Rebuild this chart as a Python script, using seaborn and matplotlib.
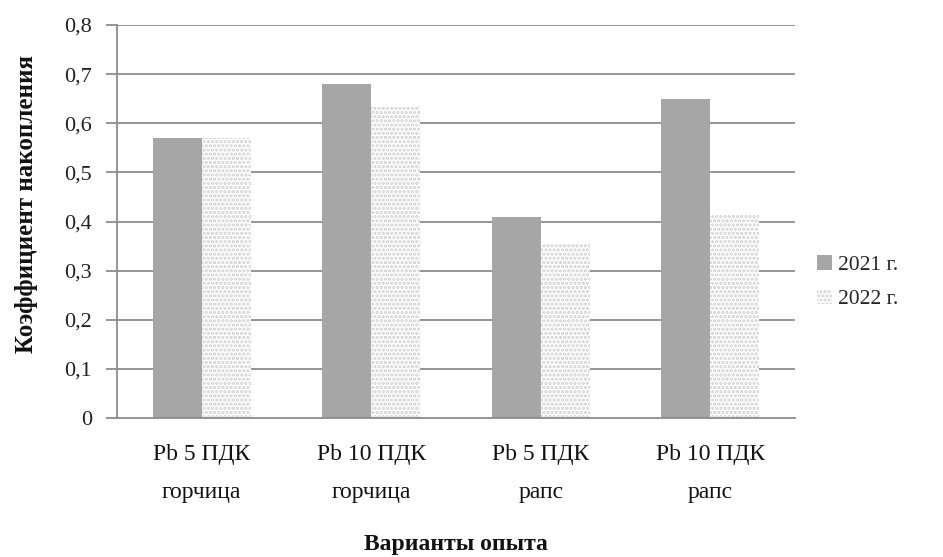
import matplotlib
matplotlib.use("Agg")
import matplotlib.pyplot as plt
import seaborn as sns
import pandas as pd
from matplotlib.patches import Patch

# Accumulation coefficient of Pb by experiment variant and year
categories = ["Pb 5 ПДК\nгорчица", "Pb 10 ПДК\nгорчица", "Pb 5 ПДК\nрапс", "Pb 10 ПДК\nрапс"]
years = ["2021 г.", "2022 г."]
values_2021 = [0.57, 0.68, 0.41, 0.65]
values_2022 = [0.57, 0.635, 0.355, 0.415]
y_ticks = [0, 0.1, 0.2, 0.3, 0.4, 0.5, 0.6, 0.7, 0.8]

df = pd.DataFrame({
    "variant": categories * 2,
    "year": [years[0]] * 4 + [years[1]] * 4,
    "value": values_2021 + values_2022,
})

sns.set_theme(style="white")
plt.rcParams["font.family"] = ["Liberation Serif", "DejaVu Serif"]
plt.rcParams["hatch.linewidth"] = 1.6

fig = plt.figure(figsize=(9.43, 5.57), dpi=100)
ax = fig.add_axes([117 / 943, 1 - 418 / 557, (795 - 117) / 943, (418 - 25) / 557])

grid_col = "#8c8c8c"
for t in y_ticks[1:]:
    ax.axhline(t, color=grid_col, lw=1.3, zorder=0)

sns.barplot(data=df, x="variant", y="value", hue="year", ax=ax,
            palette=["#a6a6a6", "#ffffff"], width=0.58, gap=0,
            saturation=1, legend=False, zorder=2)

solid_col = "#a6a6a6"
dot_col = "#d0d0d0"
n = len(categories)
for i, patch in enumerate(ax.patches[:2 * n]):
    if i < n:
        patch.set_facecolor(solid_col)
        patch.set_edgecolor(solid_col)
        patch.set_linewidth(0)
    else:
        patch.set_facecolor("white")
        patch.set_edgecolor(dot_col)
        patch.set_hatch("....")
        patch.set_linewidth(0)

ax.set_ylim(0, 0.8)
ax.set_yticks(y_ticks)
ax.set_yticklabels([("0" if v == 0 else f"{v:.1f}".replace(".", ",")) for v in y_ticks])
ax.set_xlim(-0.5, n - 0.5)

for s in ["top", "right"]:
    ax.spines[s].set_visible(False)
for s in ["left", "bottom"]:
    ax.spines[s].set_color(grid_col)
    ax.spines[s].set_linewidth(1.3)

ax.tick_params(axis="y", which="major", left=True, length=8, width=1.3,
               color=grid_col, labelsize=16, pad=10, labelcolor="#222222")
ax.tick_params(axis="x", bottom=False, labelsize=17, pad=13, labelcolor="#111111")
for lbl in ax.get_xticklabels():
    lbl.set_linespacing(2.05)

ax.set_xlabel("Варианты опыта", fontsize=17, fontweight="bold", labelpad=22, color="#111111")
ax.set_ylabel("Коэффициент накопления", fontsize=18, fontweight="bold", color="#111111")
ax.yaxis.set_label_coords(-0.117, 0.545)

# Legend with square markers on the right side
handles = [
    Patch(facecolor=solid_col, edgecolor=solid_col, lw=0),
    Patch(facecolor="white", edgecolor=dot_col, hatch="....", lw=0),
]
fig.legend(handles, years, loc="center left", bbox_to_anchor=(808 / 943, 1 - 282 / 557),
           frameon=False, fontsize=15.5, handlelength=0.7, handleheight=0.7,
           handletextpad=0.3, labelspacing=0.65, borderaxespad=0)

fig.savefig("out.png", dpi=100)
